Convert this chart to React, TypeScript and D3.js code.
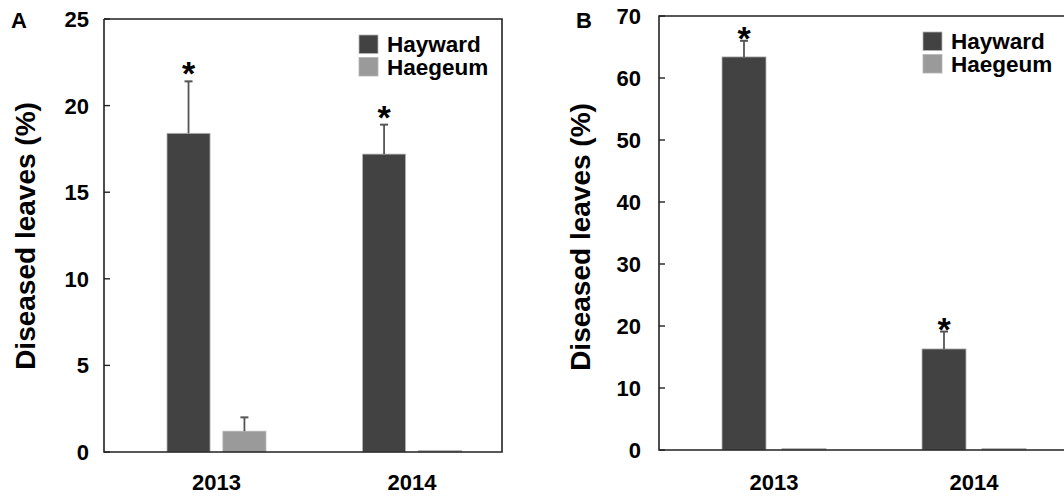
import React, { useEffect, useRef } from "react";
import * as d3 from "d3";

const years = ["2013", "2014"];
const seriesNames = ["Hayward", "Haegeum"];
const seriesColors = ["#424242", "#9a9a9a"];

// panel A
const aHayward = [18.4, 17.2];
const aHaywardErr = [3.0, 1.7];
const aHaegeum = [1.2, 0.05];
const aHaegeumErr = [0.8, 0];
const aTicks = [0, 5, 10, 15, 20, 25];

// panel B
const bHayward = [63.4, 16.3];
const bHaywardErr = [2.6, 2.8];
const bHaegeum = [0.1, 0.1];
const bHaegeumErr = [0, 0];
const bTicks = [0, 10, 20, 30, 40, 50, 60, 70];

const starred = [true, true];

const FONT = "'Liberation Sans', Arial, sans-serif";

function drawPanel(svg, cfg) {
  const { left, right, top, bottom, ymax, ticks, hay, hayErr, hae, haeErr } = cfg;
  const g = svg.append("g");

  const y = d3.scaleLinear().domain([0, ymax]).range([bottom, top]);
  const x = d3
    .scaleBand()
    .domain(years)
    .range([cfg.bandStart, cfg.bandEnd])
    .paddingInner(cfg.outerPad)
    .paddingOuter(0);
  const xs = d3
    .scaleBand()
    .domain(seriesNames)
    .range([0, x.bandwidth()])
    .paddingInner(cfg.innerPad)
    .paddingOuter(0);

  const rows = [];
  years.forEach((yr, i) => {
    rows.push({ yr, s: seriesNames[0], v: hay[i], e: hayErr[i], star: starred[i], c: seriesColors[0] });
    rows.push({ yr, s: seriesNames[1], v: hae[i], e: haeErr[i], star: false, c: seriesColors[1] });
  });

  // bars
  g.selectAll("rect.bar")
    .data(rows)
    .enter()
    .append("rect")
    .attr("class", "bar")
    .attr("x", d => x(d.yr) + xs(d.s))
    .attr("y", d => Math.min(y(d.v), bottom - 1.5))
    .attr("width", xs.bandwidth())
    .attr("height", d => Math.max(bottom - y(d.v), 1.5))
    .attr("fill", d => d.c)
    .attr("stroke", "#b5b5b5")
    .attr("stroke-width", 0.8);

  // error bars
  const errRows = rows.filter(d => d.e > 0);
  const cx = d => x(d.yr) + xs(d.s) + xs.bandwidth() / 2;
  g.selectAll("line.err")
    .data(errRows)
    .enter()
    .append("line")
    .attr("x1", cx)
    .attr("x2", cx)
    .attr("y1", d => y(d.v))
    .attr("y2", d => y(d.v + d.e))
    .attr("stroke", "#555")
    .attr("stroke-width", 1.8);
  g.selectAll("line.cap")
    .data(errRows)
    .enter()
    .append("line")
    .attr("x1", d => cx(d) - 4)
    .attr("x2", d => cx(d) + 4)
    .attr("y1", d => y(d.v + d.e))
    .attr("y2", d => y(d.v + d.e))
    .attr("stroke", "#555")
    .attr("stroke-width", 2);

  // asterisks
  g.selectAll("text.star")
    .data(rows.filter(d => d.star))
    .enter()
    .append("text")
    .attr("x", cx)
    .attr("y", d => y(d.v + d.e) + cfg.starOffset)
    .attr("text-anchor", "middle")
    .attr("font-family", FONT)
    .attr("font-weight", "bold")
    .attr("font-size", 34)
    .text("*");

  // frame
  const frame = d3.line()(cfg.frame(left, right, top, bottom));
  g.append("path")
    .attr("d", frame)
    .attr("fill", "none")
    .attr("stroke", "#222")
    .attr("stroke-width", 1.6);

  // y ticks (inside)
  g.selectAll("line.tick")
    .data(ticks)
    .enter()
    .append("line")
    .attr("x1", left)
    .attr("x2", left + 6)
    .attr("y1", d => y(d))
    .attr("y2", d => y(d))
    .attr("stroke", "#222")
    .attr("stroke-width", 1.4);
  g.selectAll("text.tick")
    .data(ticks)
    .enter()
    .append("text")
    .attr("x", left - cfg.tickGap)
    .attr("y", d => y(d))
    .attr("dy", "0.36em")
    .attr("text-anchor", "end")
    .attr("font-family", FONT)
    .attr("font-weight", "bold")
    .attr("font-size", 22)
    .text(d => d);

  // x labels
  g.selectAll("text.xl")
    .data(years)
    .enter()
    .append("text")
    .attr("x", d => x(d) + x.bandwidth() / 2)
    .attr("y", 490)
    .attr("text-anchor", "middle")
    .attr("font-family", FONT)
    .attr("font-weight", "bold")
    .attr("font-size", 22)
    .text(d => d);

  // y title
  g.append("text")
    .attr("transform", `translate(${cfg.titleX},${cfg.titleY}) rotate(-90)`)
    .attr("text-anchor", "middle")
    .attr("font-family", FONT)
    .attr("font-weight", "bold")
    .attr("font-size", 28)
    .text("Diseased leaves (%)");

  // panel letter
  g.append("text")
    .attr("x", cfg.letterX)
    .attr("y", 28)
    .attr("font-family", FONT)
    .attr("font-weight", "bold")
    .attr("font-size", 22)
    .text(cfg.letter);

  // legend
  const leg = g.append("g").attr("transform", `translate(${cfg.legX},${cfg.legY})`);
  seriesNames.forEach((s, i) => {
    leg.append("rect")
      .attr("x", 0)
      .attr("y", i * 22.5)
      .attr("width", 19)
      .attr("height", 18.5)
      .attr("fill", seriesColors[i])
      .attr("stroke", "#b5b5b5")
      .attr("stroke-width", 0.8);
    leg.append("text")
      .attr("x", 28)
      .attr("y", i * 22.5 + 17)
      .attr("font-family", FONT)
      .attr("font-weight", "bold")
      .attr("font-size", 22.5)
      .text(s);
  });
}

export default function App() {
  const ref = useRef(null);

  useEffect(() => {
    const svg = d3.select(ref.current);
    svg.selectAll("*").remove();

    drawPanel(svg, {
      letter: "A",
      letterX: 11,
      left: 104,
      right: 502,
      top: 19,
      bottom: 452,
      ymax: 25,
      ticks: aTicks,
      hay: aHayward,
      hayErr: aHaywardErr,
      hae: aHaegeum,
      haeErr: aHaegeumErr,
      bandStart: 167,
      bandEnd: 461.5,
      outerPad: 0.494,
      innerPad: 0.23,
      starOffset: 4,
      tickGap: 15,
      titleX: 35,
      titleY: 236,
      legX: 359,
      legY: 35,
      frame: (l, r, t, b) => [[l, t], [r, t], [r, b], [l, b], [l, t]],
    });

    drawPanel(svg, {
      letter: "B",
      letterX: 576,
      left: 659,
      right: 1075,
      top: 16,
      bottom: 450,
      ymax: 70,
      ticks: bTicks,
      hay: bHayward,
      hayErr: bHaywardErr,
      hae: bHaegeum,
      haeErr: bHaegeumErr,
      bandStart: 722,
      bandEnd: 1026,
      outerPad: 0.48,
      innerPad: 0.267,
      starOffset: 9,
      tickGap: 18,
      titleX: 590,
      titleY: 237,
      legX: 923,
      legY: 32,
      frame: (l, r, t, b) => [[r, t], [l, t], [l, b], [r, b]],
    });
  }, []);

  return (
    <svg
      ref={ref}
      width={1064}
      height={497}
      style={{ position: "absolute", left: 0, top: 0, background: "#fff" }}
    />
  );
}
